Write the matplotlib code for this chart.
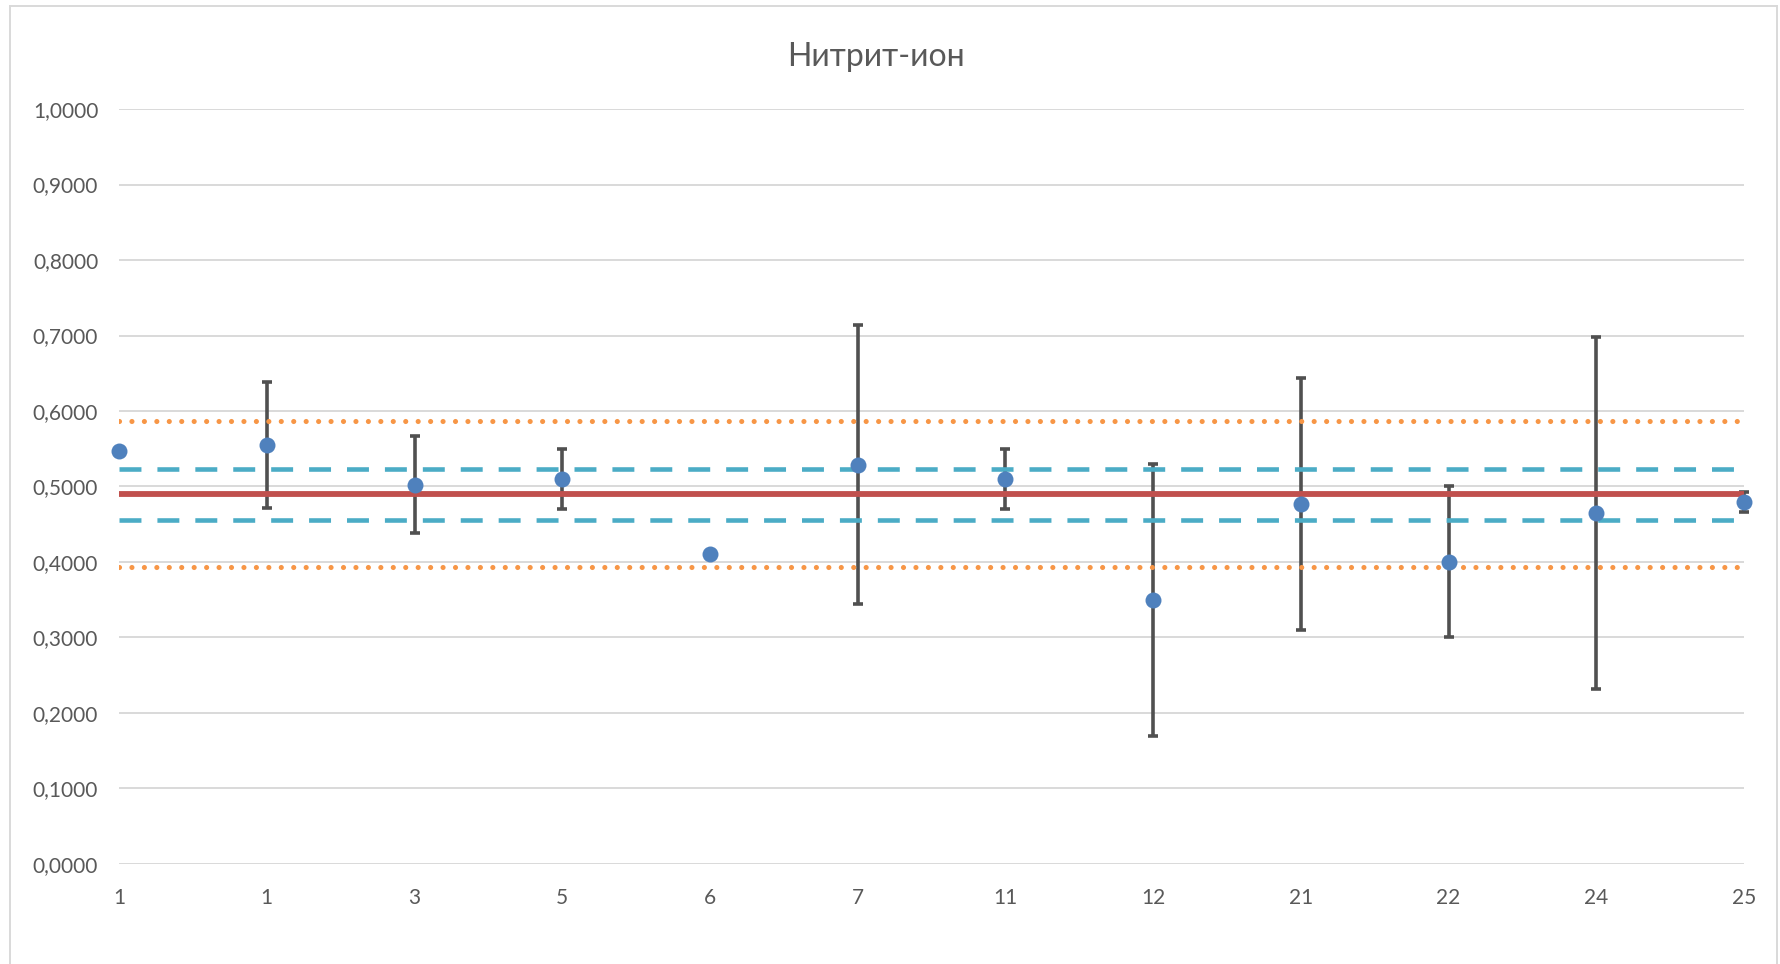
import matplotlib
matplotlib.use("Agg")
import matplotlib.pyplot as plt
import numpy as np

# ---- data ----
categories = ["1", "1", "3", "5", "6", "7", "11", "12", "21", "22", "24", "25"]
values = [0.5467, 0.5555, 0.5026, 0.5097, 0.4101, 0.5291, 0.5097, 0.3498, 0.4771, 0.4000, 0.4652, 0.4797]
errors = [0.0, 0.0835, 0.0640, 0.0400, 0.0, 0.1850, 0.0400, 0.1800, 0.1670, 0.1000, 0.2330, 0.0130]
mean_value = 0.4899
inner_limits = [0.5229, 0.4559]
outer_limits = [0.5863, 0.3934]
y_ticks = [0.0, 0.1, 0.2, 0.3, 0.4, 0.5, 0.6, 0.7, 0.8, 0.9, 1.0]
title = "Нитрит-ион"

plt.rcParams['font.family'] = ['Lato', 'Noto Sans', 'DejaVu Sans']
plt.rcParams['lines.scale_dashes'] = False

fig = plt.figure(figsize=(17.8, 9.64), dpi=100)
ax = fig.add_axes([0.0669, 0.1038, 0.9798 - 0.0669, 0.8869 - 0.1038])

x = np.arange(len(categories))
n = len(categories)

# gridlines
ax.set_ylim(0, 1.0)
ax.set_xlim(0, n - 1)
ax.set_yticks(y_ticks)
ax.yaxis.grid(True, color="#D9D9D9", linewidth=1.4)
ax.set_axisbelow(True)

# error bars
ax.errorbar(x, values, yerr=errors, fmt="none", ecolor="#505050",
            elinewidth=2.6, capsize=3.6, capthick=2.6, zorder=2, clip_on=False)

# reference lines
ax.plot(x, [mean_value] * n, color="#C0504D", linewidth=4.2, zorder=3,
        solid_capstyle="butt")
for v in inner_limits:
    ax.plot(x, [v] * n, color="#4BACC6", linewidth=3.3, zorder=3,
            dashes=(15.8, 11.5), dash_capstyle="butt")
for v in outer_limits:
    ax.plot(x, [v] * n, color="#F79646", linewidth=3.7, zorder=3,
            dashes=(0.01, 8.95), dash_capstyle="round")

# points
ax.plot(x, values, linestyle="none", marker="o", markersize=11.5,
        color="#4F81BD", markeredgewidth=0, zorder=4, clip_on=False)

ax.set_xticks(x)
ax.set_xticklabels(categories)
ax.set_yticklabels([f"{t:.4f}".replace(".", ",") for t in y_ticks])
ax.tick_params(axis="both", length=0, labelsize=15, labelcolor="#595959")
ax.tick_params(axis="y", pad=15)
ax.tick_params(axis="x", pad=17)
for s in ax.spines.values():
    s.set_visible(False)

fig.text(876 / 1780, 1 - 56.5 / 964, title, ha="center", va="center",
         fontsize=23, color="#595959")

# chart-area border
fig.add_artist(plt.Line2D([9.5 / 1780, 9.5 / 1780], [0, 1 - 5.5 / 964],
                          transform=fig.transFigure, color="#D9D9D9", linewidth=1.4))
fig.add_artist(plt.Line2D([9.5 / 1780, 1776.5 / 1780], [1 - 5.5 / 964, 1 - 5.5 / 964],
                          transform=fig.transFigure, color="#D9D9D9", linewidth=1.4))
fig.add_artist(plt.Line2D([1776.5 / 1780, 1776.5 / 1780], [0, 1 - 5.5 / 964],
                          transform=fig.transFigure, color="#D9D9D9", linewidth=1.4))

fig.savefig("out.png", dpi=100)
